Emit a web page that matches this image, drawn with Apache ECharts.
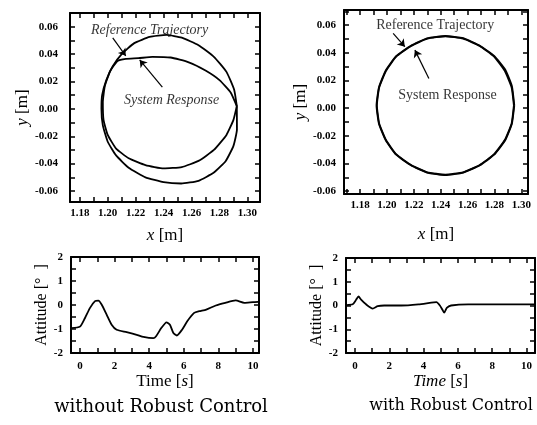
<!DOCTYPE html>
<html>
<head>
<meta charset="utf-8">
<script src="https://cdn.jsdelivr.net/npm/echarts@6/dist/echarts.min.js"></script>
<style>html,body{margin:0;padding:0;background:#fff;} #main{width:537px;height:425px;}</style>
</head>
<body>
<div id="main"></div>
<script>
// trajectory, without robust control
var refLeft = [[1.2924,0.002],[1.2905,0.014],[1.285,0.027],[1.276,0.038],[1.265,0.0465],[1.253,0.052],[1.242,0.054],[1.230,0.0525],[1.219,0.048],[1.210,0.040],[1.2035,0.031],[1.199,0.021],[1.196,0.010],[1.1955,0.000],[1.1965,-0.012],[1.200,-0.024],[1.206,-0.034],[1.215,-0.043],[1.227,-0.050],[1.240,-0.0535],[1.2526,-0.0545],[1.265,-0.0525],[1.276,-0.0465],[1.2845,-0.038],[1.290,-0.027],[1.2925,-0.015],[1.2924,0.002]];
var respLeft = [[1.2924,0.002],[1.288,0.012],[1.280,0.021],[1.270,0.028],[1.258,0.034],[1.245,0.0375],[1.232,0.038],[1.222,0.037],[1.213,0.0365],[1.207,0.035],[1.202,0.028],[1.198,0.017],[1.1965,0.005],[1.197,-0.008],[1.200,-0.019],[1.206,-0.029],[1.215,-0.036],[1.227,-0.041],[1.240,-0.0435],[1.253,-0.0425],[1.265,-0.038],[1.276,-0.030],[1.285,-0.019],[1.290,-0.008],[1.2924,0.002]];
// trajectory, with robust control
var refRight = [[1.2945,0.002],[1.2928,0.015],[1.2877,0.027],[1.2796,0.0374],[1.269,0.045],[1.2567,0.0503],[1.2435,0.052],[1.230,0.0503],[1.218,0.045],[1.207,0.0374],[1.1993,0.027],[1.1942,0.015],[1.1925,0.002],[1.1942,-0.011],[1.1993,-0.023],[1.207,-0.0334],[1.218,-0.041],[1.230,-0.0463],[1.2435,-0.048],[1.2567,-0.0463],[1.269,-0.041],[1.2796,-0.0334],[1.2877,-0.023],[1.2928,-0.011],[1.2945,0.002]];
var respRight = [[1.2948,0.002],[1.2930,0.016],[1.2880,0.028],[1.2798,0.0378],[1.2692,0.0452],[1.2568,0.0506],[1.2435,0.0522],[1.2298,0.0505],[1.2178,0.0452],[1.2068,0.0376],[1.1990,0.0272],[1.1940,0.0150],[1.1922,0.002],[1.1940,-0.0112],[1.1991,-0.0232],[1.2068,-0.0336],[1.2178,-0.0412],[1.2298,-0.0465],[1.2435,-0.0483],[1.2568,-0.0465],[1.2692,-0.0412],[1.2798,-0.0336],[1.2880,-0.0232],[1.2930,-0.0112],[1.2948,0.002]];
// attitude [deg] vs time [s]
var attLeft = [[-0.5,-0.96],[0,-0.9],[0.29,-0.54],[0.58,-0.12],[0.87,0.16],[1.06,0.18],[1.25,0.02],[1.54,-0.4],[1.83,-0.82],[2.12,-1.03],[2.7,-1.13],[3.28,-1.24],[3.67,-1.33],[4.24,-1.38],[4.4,-1.3],[4.7,-0.96],[5.0,-0.72],[5.2,-0.82],[5.4,-1.17],[5.6,-1.27],[5.9,-1.03],[6.2,-0.68],[6.6,-0.33],[6.9,-0.26],[7.3,-0.19],[7.85,-0.02],[8.4,0.09],[9.0,0.19],[9.5,0.09],[10.0,0.12],[10.3,0.13]];
var attRight = [[-0.5,0.02],[-0.14,0.05],[0.06,0.24],[0.2,0.38],[0.35,0.25],[0.64,0.05],[1.03,-0.13],[1.32,-0.03],[1.7,0.0],[2.7,0.0],[3.7,0.05],[4.45,0.12],[4.75,0.14],[4.95,0.0],[5.1,-0.18],[5.2,-0.3],[5.35,-0.1],[5.6,0.0],[6.6,0.05],[8.5,0.05],[10.5,0.05]];

var posLabels = [1.18,1.20,1.22,1.24,1.26,1.28,1.30];
var posTicks = [1.17,1.18,1.19,1.20,1.21,1.22,1.23,1.24,1.25,1.26,1.27,1.28,1.29,1.30];
var yLabels = [-0.06,-0.04,-0.02,0,0.02,0.04,0.06];
var yTicks = [-0.06,-0.05,-0.04,-0.03,-0.02,-0.01,0,0.01,0.02,0.03,0.04,0.05,0.06,0.07];
var timeLabels = [0,2,4,6,8,10];
var timeTicks = [0,1,2,3,4,5,6,7,8,9,10];
var attLabels = [-2,-1,0,1,2];
var attTicks = [-1.5,-1,-0.5,0,0.5,1,1.5];

var serif = 'Liberation Serif';

function axisPair(dir, grid, min, max, labels, ticks, fmt, name, gap, margin, nameSize) {
  var base = {
    type:'value', gridIndex:grid, min:min, max:max,
    splitLine:{show:false},
    axisLine:{show:true, onZero:false, lineStyle:{color:'#000', width:2}},
    axisTick:{show:true, inside:true, length:5, customValues:ticks, lineStyle:{color:'#000', width:1.5}}
  };
  var main = Object.assign({}, base, {
    position: dir == 'x' ? 'bottom' : 'left',
    name:name, nameLocation:'middle', nameGap:gap,
    nameTextStyle:{fontFamily:serif, fontSize:nameSize, color:'#000',
      rich:{i:{fontStyle:'italic', fontFamily:serif, fontSize:nameSize, color:'#000'}}},
    axisLabel:{show:true, customValues:labels, formatter:fmt, margin:margin,
      fontFamily:serif, fontWeight:'bold', fontSize:11, color:'#000'}
  });
  var mirror = Object.assign({}, base, {position: dir == 'x' ? 'top' : 'right', axisLabel:{show:false}});
  return [main, mirror];
}

var f2 = function(v){ return v.toFixed(2); };
var f0 = function(v){ return String(v); };

var xAxis = [].concat(
  axisPair('x',0,1.173,1.309,posLabels,posTicks,f2,'{i|x} [m]',25,6,17),
  axisPair('x',1,1.168,1.305,posLabels,posTicks,f2,'{i|x} [m]',32,6,17),
  axisPair('x',2,-0.52,10.35,timeLabels,timeTicks,f0,'Time [{i|s}]',17,8,17),
  axisPair('x',3,-0.53,10.5,timeLabels,timeTicks,f0,'{i|Time} [{i|s}]',17,8,17)
);
var yAxis = [].concat(
  axisPair('y',0,-0.068,0.07,yLabels,yTicks,f2,'{i|y} [m]',25,12,17),
  axisPair('y',1,-0.062,0.071,yLabels,yTicks,f2,'{i|y} [m]',34,8,17),
  axisPair('y',2,-2,2,attLabels,attTicks,f0,'Attitude [°  ]',19,8,16),
  axisPair('y',3,-2,2,attLabels,attTicks,f0,'Attitude [°  ]',16,8,16)
);

function curve(data, ax, smooth) {
  return {type:'line', data:data, xAxisIndex:ax*2, yAxisIndex:ax*2, showSymbol:false,
    smooth:smooth, lineStyle:{color:'#000', width:1.8}, silent:true};
}

function notes(ax, texts, arrows, italic) {
  return {type:'scatter', xAxisIndex:ax*2, yAxisIndex:ax*2, symbolSize:0, silent:true,
    data:texts,
    label:{show:true, position:'inside', formatter:function(p){ return p.value[2]; },
      fontFamily:serif, fontSize:14, color:'#000', fontStyle: italic ? 'italic' : 'normal'},
    markLine:{silent:true, symbol:['none','arrow'], symbolSize:7, label:{show:false},
      lineStyle:{color:'#000', width:1.2, type:'solid'},
      data:arrows.map(function(a){ return [{coord:a[0]},{coord:a[1]}]; })}
  };
}

var option = {
  animation:false,
  backgroundColor:'#fff',
  grid:[
    {left:70, top:13, width:190, height:189},
    {left:344, top:10, width:184, height:184},
    {left:71, top:257, width:188, height:96},
    {left:346, top:258, width:189, height:95}
  ],
  xAxis:xAxis,
  yAxis:yAxis,
  series:[
    curve(refLeft,0,0.15), curve(respLeft,0,0.15),
    curve(refRight,1,0.15), curve(respRight,1,0.15),
    curve(attLeft,2,0.2), curve(attRight,3,0.2),
    notes(0, [[1.23,0.0576,'Reference Trajectory'],[1.2457,0.0065,'System Response']],
      [[[1.2036,0.0518],[1.2129,0.0387]],[[1.2391,0.0158],[1.2229,0.0357]]], true),
    notes(1, [[1.2359,0.060,'Reference Trajectory'],[1.245,0.0094,'System Response']],
      [[[1.2046,0.0541],[1.2133,0.0445]],[[1.2312,0.0215],[1.2208,0.042]]], false)
  ],
  graphic:[
    {type:'text', x:161, y:398, style:{text:'without Robust Control', font:'18px "DejaVu Serif"', fill:'#000', textAlign:'center'}},
    {type:'text', x:451, y:398, style:{text:'with Robust Control', font:'16px "DejaVu Serif"', fill:'#000', textAlign:'center'}}
  ]
};

var chart = echarts.init(document.getElementById('main'));
chart.setOption(option);
</script>
</body>
</html>
